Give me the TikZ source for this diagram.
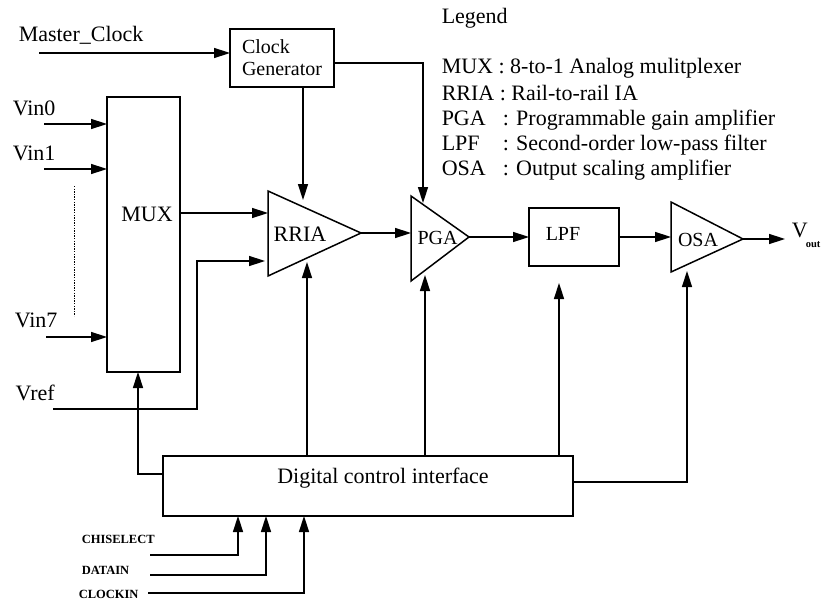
\documentclass[tikz,border=0pt]{standalone}
\usepackage{fontspec}
\setmainfont{Liberation Serif}
\usetikzlibrary{arrows.meta}
\begin{document}
\begin{tikzpicture}[x=1pt,y=-1pt,line width=1.5pt,
  arr/.style={-{Triangle[length=16pt,width=10pt]}},
  box/.style={draw,line width=1.5pt,inner sep=0pt,outer sep=0pt},
  lbl/.style={font=\fontsize{22}{25}\selectfont,inner sep=0pt,anchor=base west},
  blk/.style={font=\fontsize{22}{25}\selectfont,inner sep=0pt},
  blks/.style={font=\fontsize{20}{22}\selectfont,inner sep=0pt},
  sig/.style={font=\fontsize{12.5}{14}\selectfont\bfseries,inner sep=0pt,anchor=base west}]
\useasboundingbox (0,0) rectangle (822,602);

% ---- rectangular blocks
\node[box,minimum width=104pt,minimum height=58pt,align=left,
      font=\fontsize{20}{22}\selectfont] (clk) at (282,58) {Clock\\Generator};
\node[box,minimum width=73pt,minimum height=275pt] (mux) at (143.5,234.5) {};
\node[blk] (muxl) at (147,214) {MUX};
\node[box,minimum width=90pt,minimum height=58pt] (lpf) at (574,237) {};
\node[blks] (lpfl) at (563,234) {LPF};
\node[box,minimum width=410pt,minimum height=60pt] (dci) at (368,486) {};
\node[blk] (dcil) at (383,478) {Digital control interface};

% ---- amplifier triangles
\coordinate (rrT) at (268,191); \coordinate (rrB) at (268,276); \coordinate (rrA) at (361,233);
\draw (rrT) -- (rrA) -- (rrB) -- cycle;
\node[blk] (rrl) at (300,234) {RRIA};
\coordinate (pgT) at (411,196); \coordinate (pgB) at (411,281); \coordinate (pgA) at (469,237);
\draw (pgT) -- (pgA) -- (pgB) -- cycle;
\node[blks] (pgl) at (437.5,238) {PGA};
\coordinate (osT) at (671,202); \coordinate (osB) at (671,272); \coordinate (osA) at (743,239);
\draw (osT) -- (osA) -- (osB) -- cycle;
\node[blks] (osl) at (698,240) {OSA};

% ---- input labels
\node[lbl] (mclk) at (18,42) {Master\_Clock};
\node[lbl] (vin0) at (12,115) {Vin0};
\node[lbl] (vin1) at (12,160) {Vin1};
\node[lbl] (vin7) at (14,327) {Vin7};
\node[lbl] (vref) at (15,400) {Vref};
\node[sig] (chis) at (81,543) {CHISELECT};
\node[sig] (dati) at (81,574) {DATAIN};
\node[sig] (clki) at (78,598) {CLOCKIN};
\node[lbl] (vout) at (791,237) {V};
\node[font=\fontsize{10.5}{11}\selectfont\bfseries,inner sep=0pt,anchor=base west]
  (voutsub) at (805,247) {out};

% ---- connector end points
\coordinate (mclkS) at (39,53);
\coordinate (v0S) at (44,124);
\coordinate (v1S) at (44,169);
\coordinate (v7S) at (46,337);
\coordinate (vrefS) at (53,409);
\coordinate (vrefK) at (197,409);
\coordinate (rrIn1) at (268,213);
\coordinate (rrIn2) at (265,261);
\coordinate (rrTop) at (303,200);
\coordinate (rrBot) at (307,262);
\coordinate (pgTop) at (423,203);
\coordinate (pgBot) at (425,275);
\coordinate (lpfBot) at (559,283);
\coordinate (osBot) at (687,271);
\coordinate (outE) at (785,239);
\coordinate (muxCtl) at (138,474);
\coordinate (osCtl) at (687,482);
\coordinate (chS) at (150,555);
\coordinate (daS) at (150,575);
\coordinate (ckS) at (148,593);

% ---- clock paths
\draw[arr] (mclkS) -- (clk.west |- mclkS);
\draw[arr] (clk.east |- 0,63) -- (pgTop |- 0,63) -- (pgTop);
\draw[arr] (clk.south -| rrTop) -- (rrTop);

% ---- analog inputs
\draw[arr] (v0S) -- (mux.west |- v0S);
\draw[arr] (v1S) -- (mux.west |- v1S);
\draw[arr] (v7S) -- (mux.west |- v7S);
\draw[line width=1pt,dash pattern=on 1.3pt off 1.3pt] (74,186) -- (74,316);
\draw[arr] (vrefS) -- (vrefK) -- (vrefK |- rrIn2) -- (rrIn2);

% ---- signal chain
\draw[arr] (mux.east |- rrIn1) -- (rrIn1);
\draw[arr] (rrA) -- (pgT |- rrA);
\draw[arr] (pgA) -- (lpf.west |- pgA);
\draw[arr] (lpf.east) -- (osT |- lpf.east);
\draw[arr] (osA) -- (outE);

% ---- digital control lines
\draw[arr] (dci.west |- muxCtl) -- (muxCtl) -- (mux.south -| muxCtl);
\draw[arr] (dci.north -| rrBot) -- (rrBot);
\draw[arr] (dci.north -| pgBot) -- (pgBot);
\draw[arr] (dci.north -| lpfBot) -- (lpfBot);
\draw[arr] (dci.east |- osCtl) -- (osCtl) -- (osBot);
\draw[arr] (chS) -- (238,555) -- (dci.south -| 238,0);
\draw[arr] (daS) -- (266,575) -- (dci.south -| 266,0);
\draw[arr] (ckS) -- (304,593) -- (dci.south -| 304,0);

% ---- legend
\node[lbl] (leg) at (441,24) {Legend};
\node[lbl] (lmux) at (441,74) {MUX : 8-to-1 Analog mulitplexer};
\node[lbl] (lrr) at (441,100) {RRIA : Rail-to-rail IA};
\node[lbl] (lpg) at (441,125) {PGA};
\node[lbl] (lpgt) at (502,125) {: Programmable gain amplifier};
\node[lbl] (llp) at (441,150) {LPF};
\node[lbl] (llpt) at (502,150) {: Second-order low-pass filter};
\node[lbl] (los) at (441,175) {OSA};
\node[lbl] (lost) at (502,175) {: Output scaling amplifier};
\end{tikzpicture}
\end{document}
